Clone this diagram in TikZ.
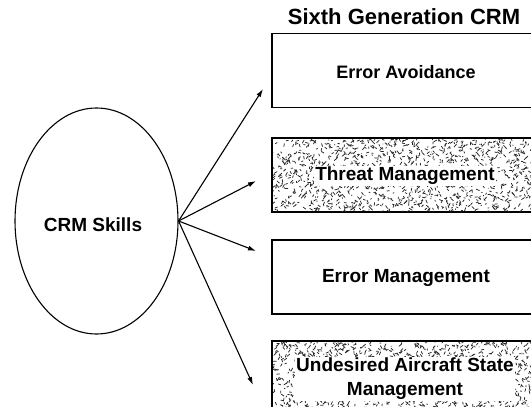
\documentclass[tikz,border=0pt]{standalone}
\usepackage{fontspec}
\setmainfont{Liberation Sans}
\usetikzlibrary{shapes.geometric,arrows.meta}
\begin{document}
\begin{tikzpicture}[x=1pt,y=-1pt,
  lbl/.style={font=\bfseries\fontsize{19}{24}\selectfont, inner sep=1pt, align=center},
  boxstyle/.style={draw, line width=1.6pt, minimum width=273pt, minimum height=74pt, inner sep=0pt},
  arr/.style={line width=1.1pt, -{Latex[length=8pt,width=5pt]}},
  speck/.style={line width=0.75pt, black!85, line cap=round}]
\useasboundingbox (0,0) rectangle (531,407);
\clip (0,0) rectangle (531,407);
\fill[white] (0,0) rectangle (531,407);
\pgfmathsetseed{7}
% title
\node[lbl, font=\bfseries\fontsize{22}{26}\selectfont] (title) at (404,17) {Sixth Generation CRM};
% boxes
\node[boxstyle] (b1) at (408.5,70.5) {};
\node[boxstyle] (b2) at (408.5,175) {};
\node[boxstyle] (b3) at (408.5,277) {};
\node[boxstyle] (b4) at (408.5,378) {};
% speckle textures
\begin{scope}
\clip (273,139) rectangle (540,211);
\foreach \i in {1,...,1300}{
  \pgfmathsetmacro{\px}{272+268*rnd}
  \pgfmathsetmacro{\py}{139+72*rnd}
  \draw[speck] (\px,\py) -- ++(3*rand,3*rand);
}
\end{scope}
\begin{scope}
\clip (273,342) rectangle (540,410);
\foreach \i in {1,...,1200}{
  \pgfmathsetmacro{\px}{272+268*rnd}
  \pgfmathsetmacro{\py}{342+68*rnd}
  \draw[speck] (\px,\py) -- ++(3*rand,3*rand);
}
\end{scope}
% box texts
\node[lbl, font=\bfseries\fontsize{18}{24}\selectfont] (t1) at (406,72) {Error Avoidance};
\node[lbl, fill=white] (t2) at (405,176) {Threat Management};
\node[lbl] (t3) at (406,278) {Error Management};
\node[lbl, fill=white] (t4) at (405,379) {Undesired Aircraft State\\Management};
% ellipse
\node[draw, ellipse, line width=1.1pt, minimum width=163pt, minimum height=226pt, inner sep=0pt] (crm) at (96.5,221) {};
\node[lbl] (crmt) at (93,225) {CRM Skills};
% arrow ends
\coordinate (e1) at (263,89);
\coordinate (e2) at (256,181);
\coordinate (e3) at (256,251);
\coordinate (e4) at (253,385);
\draw[arr] (crm.east) -- (e1);
\draw[arr] (crm.east) -- (e2);
\draw[arr] (crm.east) -- (e3);
\draw[arr] (crm.east) -- (e4);
\end{tikzpicture}
\end{document}
